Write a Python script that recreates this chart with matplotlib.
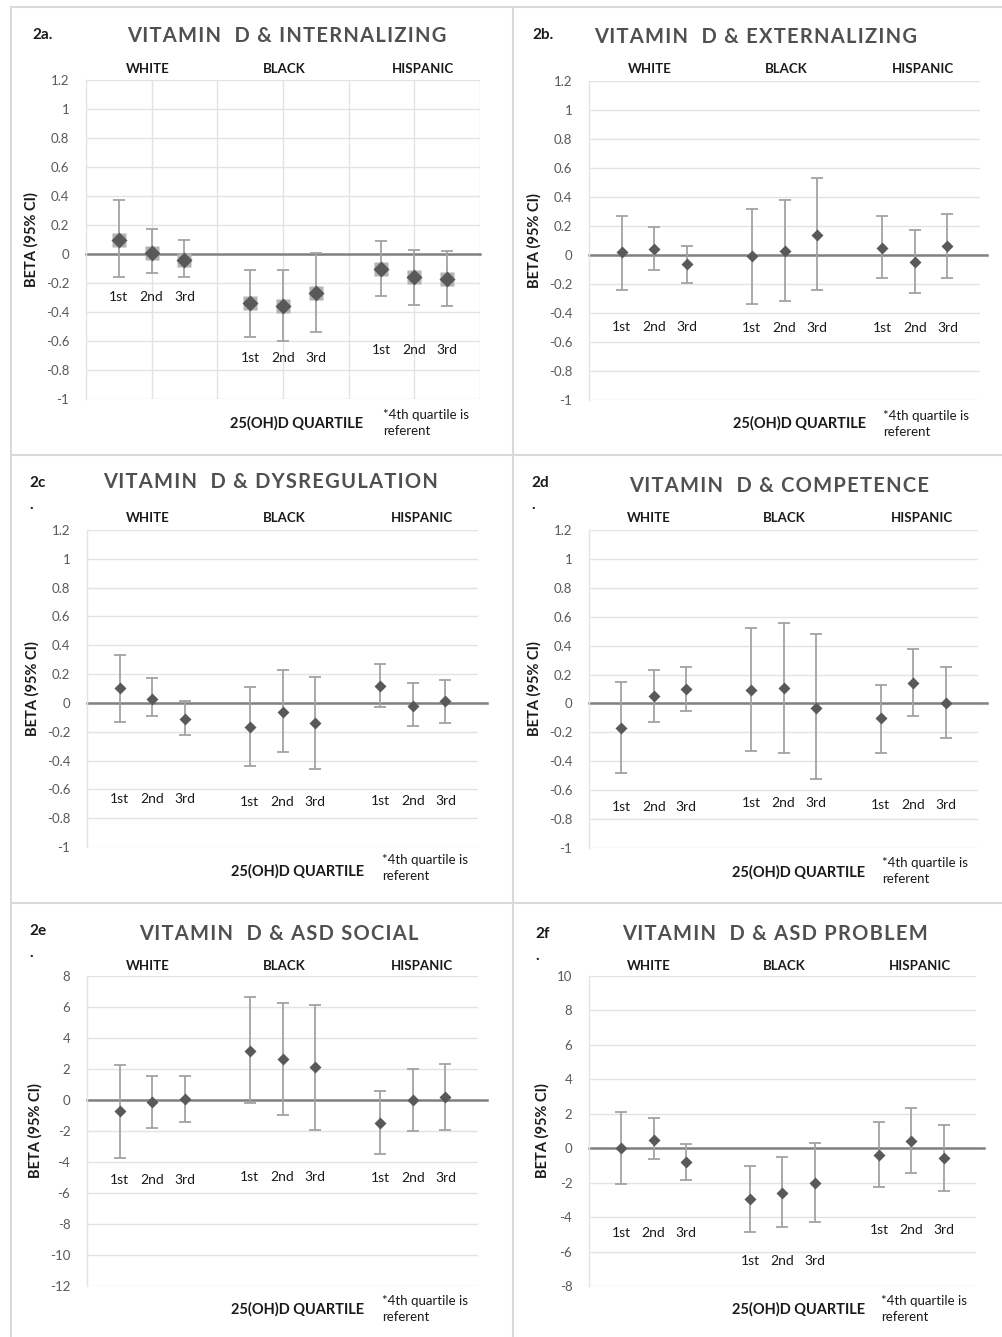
import matplotlib
matplotlib.use("Agg")
import matplotlib.pyplot as plt
from matplotlib.lines import Line2D
import numpy as np

W, H = 1003, 1337
plt.rcParams['font.family'] = ['Lato', 'DejaVu Sans']

# ---------------- data ----------------
races = ["WHITE", "BLACK", "HISPANIC"]
quartiles = ["1st", "2nd", "3rd"]

# order: White 1st-3rd, Black 1st-3rd, Hispanic 1st-3rd
int_beta = [0.10, 0.01, -0.04, -0.34, -0.36, -0.27, -0.10, -0.16, -0.17]
int_lo   = [-0.16, -0.13, -0.16, -0.57, -0.60, -0.54, -0.29, -0.35, -0.36]
int_hi   = [0.37, 0.17, 0.10, -0.11, -0.11, 0.01, 0.09, 0.03, 0.02]

ext_beta = [0.02, 0.04, -0.06, -0.01, 0.03, 0.14, 0.05, -0.05, 0.06]
ext_lo   = [-0.24, -0.10, -0.19, -0.34, -0.32, -0.24, -0.16, -0.26, -0.16]
ext_hi   = [0.27, 0.19, 0.06, 0.32, 0.38, 0.53, 0.27, 0.17, 0.28]

dys_beta = [0.10, 0.03, -0.11, -0.17, -0.06, -0.14, 0.12, -0.02, 0.01]
dys_lo   = [-0.13, -0.09, -0.22, -0.44, -0.34, -0.46, -0.03, -0.16, -0.14]
dys_hi   = [0.33, 0.17, 0.01, 0.11, 0.23, 0.18, 0.27, 0.14, 0.16]

comp_beta = [-0.17, 0.05, 0.10, 0.09, 0.11, -0.03, -0.10, 0.14, 0.00]
comp_lo   = [-0.48, -0.13, -0.05, -0.33, -0.34, -0.52, -0.34, -0.09, -0.24]
comp_hi   = [0.15, 0.23, 0.25, 0.52, 0.56, 0.48, 0.13, 0.38, 0.25]

soc_beta = [-0.72, -0.14, 0.08, 3.18, 2.66, 2.12, -1.47, -0.01, 0.19]
soc_lo   = [-3.71, -1.80, -1.39, -0.22, -0.99, -1.96, -3.48, -1.99, -1.91]
soc_hi   = [2.27, 1.54, 1.54, 6.67, 6.28, 6.15, 0.57, 2.03, 2.30]

prob_beta = [0.00, 0.50, -0.82, -2.95, -2.58, -2.00, -0.39, 0.44, -0.58]
prob_lo   = [-2.06, -0.63, -1.83, -4.86, -4.59, -4.28, -2.25, -1.45, -2.50]
prob_hi   = [2.10, 1.74, 0.23, -1.01, -0.49, 0.32, 1.53, 2.34, 1.35]

small_ticks = [1.2, 1.0, 0.8, 0.6, 0.4, 0.2, 0.0, -0.2, -0.4, -0.6, -0.8, -1.0]
small_labels = ["1.2", "1", "0.8", "0.6", "0.4", "0.2", "0", "-0.2", "-0.4", "-0.6", "-0.8", "-1"]
soc_ticks = [8, 6, 4, 2, 0, -2, -4, -6, -8, -10, -12]
soc_labels = ["8", "6", "4", "2", "0", "-2", "-4", "-6", "-8", "-10", "-12"]
prob_ticks = [10, 8, 6, 4, 2, 0, -2, -4, -6, -8]
prob_labels = ["10", "8", "6", "4", "2", "0", "-2", "-4", "-6", "-8"]

titles = ["VITAMIN  D & INTERNALIZING", "VITAMIN  D & EXTERNALIZING",
          "VITAMIN  D & DYSREGULATION", "VITAMIN  D & COMPETENCE",
          "VITAMIN  D & ASD SOCIAL", "VITAMIN  D & ASD PROBLEM"]
tags = ["2a.", "2b.", "2c\n.", "2d\n.", "2e\n.", "2f\n."]
xlabel = "25(OH)D QUARTILE"
note = "*4th quartile is\nreferent"
ylabel = "BETA (95% CI)"

# ---------------- layout (pixels) ----------------
panels = [
    dict(beta=int_beta, lo=int_lo, hi=int_hi, ticks=small_ticks, tlabels=small_labels,
         rect=(86, 480, 80, 399), tag=(32, 35), title=(287, 36), grp_y=69, grp_x=(148, 284, 423),
         qy=(-0.295, -0.72, -0.66), xl=(297, 423), note=(383, 423), zext=1.0, big=True, vgrid=True),
    dict(beta=ext_beta, lo=ext_lo, hi=ext_hi, ticks=small_ticks, tlabels=small_labels,
         rect=(589, 980, 81, 400), tag=(532, 35), title=(756, 37), grp_y=69, grp_x=(650, 786, 923),
         qy=(-0.495, -0.506, -0.50), xl=(800, 423), note=(883, 424), zext=1.018, big=False, vgrid=False),
    dict(beta=dys_beta, lo=dys_lo, hi=dys_hi, ticks=small_ticks, tlabels=small_labels,
         rect=(87, 478, 530, 847), tag=(29, 494), title=(271, 482), grp_y=518, grp_x=(148, 284, 422),
         qy=(-0.67, -0.69, -0.68), xl=(298, 871), note=(382, 868), zext=1.023, big=False, vgrid=False),
    dict(beta=comp_beta, lo=comp_lo, hi=comp_hi, ticks=small_ticks, tlabels=small_labels,
         rect=(589, 978, 530, 848), tag=(531, 494), title=(779, 486), grp_y=518, grp_x=(649, 784, 922),
         qy=(-0.716, -0.69, -0.70), xl=(799, 872), note=(882, 871), zext=1.023, big=False, vgrid=False),
    dict(beta=soc_beta, lo=soc_lo, hi=soc_hi, ticks=soc_ticks, tlabels=soc_labels,
         rect=(87, 478, 976, 1286), tag=(29, 942), title=(279, 934), grp_y=966, grp_x=(148, 284, 422),
         qy=(-5.17, -4.95, -5.02), xl=(298, 1309), note=(382, 1309), zext=1.023, big=False, vgrid=False),
    dict(beta=prob_beta, lo=prob_lo, hi=prob_hi, ticks=prob_ticks, tlabels=prob_labels,
         rect=(589, 976, 976, 1286), tag=(535, 945), title=(775, 934), grp_y=966, grp_x=(649, 784, 920),
         qy=(-4.94, -6.55, -4.75), xl=(799, 1309), note=(881, 1309), zext=1.02, big=False, vgrid=False),
]

MARK = '#595959'
ERR = '#a3a3a3'
GRID = '#e3e3e3'
ZERO = '#808080'
TXT = '#595959'
DARK = '#1a1a1a'

fig = plt.figure(figsize=(W / 100, H / 100), dpi=100)
fig.patch.set_facecolor('white')


def fx(x):
    return x / W


def fy(y):
    return 1 - y / H


def spaced(s):
    return '\u200a'.join(s)


# panel borders
BORDER = '#d9d9d9'
for x in (11, 513):
    fig.add_artist(Line2D([fx(x), fx(x)], [fy(7), fy(H)], color=BORDER, lw=1.5))
for y in (7, 455, 903):
    fig.add_artist(Line2D([fx(11), fx(W)], [fy(y), fy(y)], color=BORDER, lw=1.5))

xpos = [r * 4 + q + 1 for r in range(len(races)) for q in range(len(quartiles))]

for i, p in enumerate(panels):
    x0, x1, y0, y1 = p['rect']
    ax = fig.add_axes([fx(x0), fy(y1), (x1 - x0) / W, (y1 - y0) / H])
    ax.set_xlim(0, 12)
    ax.set_ylim(min(p['ticks']), max(p['ticks']))
    ax.set_yticks(p['ticks'])
    ax.set_yticklabels(p['tlabels'])
    ax.tick_params(axis='y', length=0, labelsize=9.5, labelcolor=TXT, pad=12)
    ax.tick_params(axis='x', length=0, labelbottom=False)
    ax.grid(axis='y', color=GRID, lw=1.0)
    if p['vgrid']:
        ax.set_xticks([2, 4, 6, 8, 10, 12])
        ax.grid(axis='x', color=GRID, lw=1.0)
    else:
        ax.set_xticks([])
    ax.set_axisbelow(True)
    for s in ('top', 'right', 'bottom'):
        ax.spines[s].set_visible(False)
    ax.spines['left'].set_color(GRID)
    ax.spines['left'].set_linewidth(1.0)

    beta = np.array(p['beta'])
    lo = np.array(p['lo'])
    hi = np.array(p['hi'])
    ax.errorbar(xpos, beta, yerr=[beta - lo, hi - beta], fmt='none', ecolor=ERR,
                elinewidth=1.3, capsize=4, capthick=1.3, zorder=3)
    ax.axhline(0, xmin=0, xmax=p['zext'], color=ZERO, lw=1.8, clip_on=False, zorder=2)
    if p['big']:
        ax.plot(xpos, beta, 's', ms=10, color='#b3b3b3', mec='none', zorder=4)
        ax.plot(xpos, beta, 'D', ms=8, color=MARK, mec='none', zorder=5)
    else:
        ax.plot(xpos, beta, 'D', ms=6, color=MARK, mec='none', zorder=5)

    for r in range(len(races)):
        for q in range(len(quartiles)):
            ax.text(r * 4 + q + 1, p['qy'][r], quartiles[q], ha='center', va='center',
                    fontsize=10, color=DARK)

    ax.set_ylabel(ylabel, fontsize=10.5, fontweight='bold', color=DARK, labelpad=5)

    # header texts
    fig.text(fx(p['tag'][0]), fy(p['tag'][1]), tags[i], ha='left', va='center',
             fontsize=11, fontweight='bold', color=DARK, linespacing=1.8)
    fig.text(fx(p['title'][0]), fy(p['title'][1]), spaced(titles[i]), ha='center', va='center',
             fontsize=14.5, fontweight='bold', color='#505050')
    for r, gx in enumerate(p['grp_x']):
        fig.text(fx(gx), fy(p['grp_y']), races[r], ha='center', va='center',
                 fontsize=9.5, fontweight='bold', color=DARK)
    fig.text(fx(p['xl'][0]), fy(p['xl'][1]), xlabel, ha='center', va='center',
             fontsize=10.5, fontweight='bold', color=DARK)
    fig.text(fx(p['note'][0]), fy(p['note'][1]), note, ha='left', va='center',
             fontsize=9.5, color=DARK, linespacing=1.45)

fig.savefig('out.png', dpi=100, facecolor='white')
